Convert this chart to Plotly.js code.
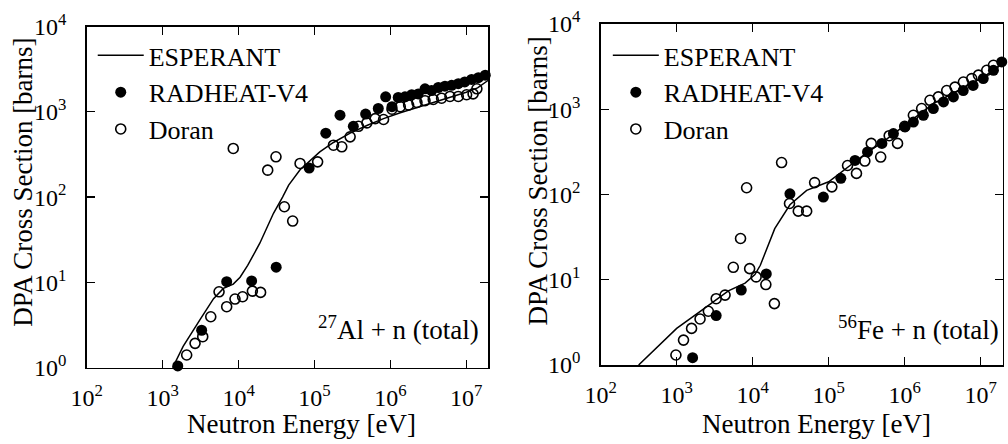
<!DOCTYPE html>
<html>
<head>
<meta charset="utf-8">
<script src="https://cdn.plot.ly/plotly-3.0.1.min.js"></script>
<style>html,body{margin:0;padding:0;background:#fff;}#chart{width:1008px;height:444px;}</style>
</head>
<body>
<div id="chart"></div>
<script>
// ---- Tick labels ----
const xTickVals = [1e2, 1e3, 1e4, 1e5, 1e6, 1e7];
const xTickText = ['10<sup>2</sup>', '10<sup>3</sup>', '10<sup>4</sup>', '10<sup>5</sup>', '10<sup>6</sup>', '10<sup>7</sup>'];
const yTickVals = [1, 10, 100, 1000, 10000];
const yTickText = ['10<sup>0</sup>', '10<sup>1</sup>', '10<sup>2</sup>', '10<sup>3</sup>', '10<sup>4</sup>'];

const seriesNames = ['ESPERANT', 'RADHEAT-V4', 'Doran'];
const panelLabels = ['<sup>27</sup>Al + n (total)', '<sup>56</sup>Fe + n (total)'];
const xTitle = 'Neutron Energy [eV]';
const yTitle = 'DPA Cross Section [barns]';

// ---- 27Al + n : ESPERANT (line) ----
const alEspE = [1.35e3, 1.86e3, 3.09e3, 4.68e3, 6.31e3, 8.51e3, 1.047e4, 1.318e4, 1.905e4, 2.884e4, 3.80e4, 4.57e4, 6.46e4, 8.71e4, 1.175e5, 1.778e5, 2.95e5, 4.90e5, 8.13e5, 1.35e6, 2.24e6, 3.72e6, 6.17e6, 1.0e7, 1.41e7, 1.95e7];
const alEspS = [1.0, 1.78, 3.63, 6.46, 8.51, 9.55, 11.5, 15.8, 28.8, 64.6, 100, 138, 209, 263, 339, 437, 562, 692, 832, 977, 1122, 1288, 1479, 1698, 1905, 2344];

// ---- 27Al + n : RADHEAT-V4 (filled) ----
const alRadE = [1.58e3, 3.26e3, 6.97e3, 1.486e4, 3.13e4, 8.51e4, 1.41e5, 2.17e5, 3.25e5, 4.72e5, 6.93e5, 8.67e5, 1.05e6, 1.27e6, 1.56e6, 1.91e6, 2.33e6, 2.86e6, 3.49e6, 4.28e6, 5.24e6, 6.41e6, 7.85e6, 9.55e6, 1.175e7, 1.445e7, 1.78e7];
const alRadS = [1.05, 2.75, 10.2, 10.4, 15.1, 219, 562, 912, 676, 940, 1094, 1500, 1148, 1472, 1500, 1585, 1622, 1862, 1778, 1928, 1995, 2042, 2138, 2239, 2399, 2512, 2692];

// ---- 27Al + n : Doran (open) ----
const alDorE = [2.07e3, 2.67e3, 3.37e3, 4.30e3, 5.53e3, 6.97e3, 8.97e3, 1.13e4, 1.52e4, 1.95e4, 8.51e3, 2.42e4, 3.11e4, 4.01e4, 5.16e4, 6.46e4, 1.10e5, 1.78e5, 2.29e5, 2.95e5, 3.80e5, 4.90e5, 6.31e5, 8.13e5, 1.05e6, 1.35e6, 1.74e6, 2.24e6, 2.86e6, 3.67e6, 4.73e6, 6.10e6, 7.85e6, 1.01e7, 1.23e7, 1.38e7];
const alDorS = [1.41, 1.93, 2.31, 3.96, 7.76, 5.19, 6.38, 6.79, 7.91, 7.64, 372, 207, 297, 77.1, 52.4, 248, 259, 406, 389, 509, 676, 741, 832, 813, 1072, 1148, 1202, 1288, 1349, 1396, 1445, 1514, 1514, 1585, 1622, 1862];

// ---- 56Fe + n : ESPERANT (line) ----
const feEspE = [316, 562, 1000, 2042, 4786, 7943, 1.07e4, 1.26e4, 1.95e4, 3.09e4, 4.17e4, 5.13e4, 1.0e5, 1.74e5, 3.16e5, 5.25e5, 8.71e5, 1.445e6, 2.40e6, 3.98e6, 6.61e6, 1.10e7, 1.95e7];
const feEspS = [1.0, 1.66, 2.69, 4.27, 7.41, 9.12, 11.5, 14.8, 39.8, 75.9, 95.5, 112, 141, 204, 309, 417, 589, 851, 1175, 1479, 1862, 2399, 3467];

// ---- 56Fe + n : RADHEAT-V4 (filled) ----
const feRadE = [1.62e3, 3.31e3, 7.08e3, 1.51e4, 3.09e4, 8.51e4, 1.445e5, 2.22e5, 3.24e5, 5.01e5, 7.10e5, 1.01e6, 1.30e6, 1.76e6, 2.38e6, 3.24e6, 4.37e6, 5.89e6, 7.94e6, 1.08e7, 1.47e7, 1.89e7];
const feRadS = [1.22, 3.80, 7.57, 11.7, 102, 93.3, 155, 251, 316, 398, 519, 621, 708, 851, 1019, 1219, 1396, 1660, 1905, 2291, 2864, 3589];

// ---- 56Fe + n : Doran (open) ----
const feDorE = [977, 1.23e3, 1.57e3, 2.03e3, 2.61e3, 3.31e3, 4.33e3, 5.56e3, 6.92e3, 8.32e3, 9.12e3, 1.11e4, 1.49e4, 1.93e4, 2.40e4, 3.05e4, 3.98e4, 5.13e4, 6.53e4, 1.10e5, 1.77e5, 2.32e5, 2.99e5, 3.63e5, 4.83e5, 6.25e5, 8.05e5, 1.0e6, 1.30e6, 1.67e6, 2.15e6, 2.77e6, 3.57e6, 4.59e6, 5.92e6, 7.62e6, 9.33e6, 1.20e7, 1.47e7];
const feDorS = [1.31, 1.96, 2.69, 3.47, 4.27, 6.0, 6.61, 14.0, 30.5, 120, 13.5, 10.8, 8.79, 5.25, 237, 78.5, 63.8, 63.8, 138, 123, 219, 177, 247, 398, 275, 490, 398, 631, 851, 1019, 1274, 1396, 1660, 1820, 2089, 2291, 2512, 2864, 3281];

const FONT = '"Liberation Serif", "Times New Roman", Times, serif';

function lineTrace(x, y, xa, ya, leg, name) {
  return {x: x, y: y, xaxis: xa, yaxis: ya, legend: leg, name: name, type: 'scatter', mode: 'lines',
          line: {color: 'black', width: 1.5}, hoverinfo: 'skip'};
}
function filledTrace(x, y, xa, ya, leg, name) {
  return {x: x, y: y, xaxis: xa, yaxis: ya, legend: leg, name: name, type: 'scatter', mode: 'markers',
          cliponaxis: false, marker: {symbol: 'circle', size: 11, color: 'black'}, hoverinfo: 'skip'};
}
function openTrace(x, y, xa, ya, leg, name) {
  return {x: x, y: y, xaxis: xa, yaxis: ya, legend: leg, name: name, type: 'scatter', mode: 'markers',
          cliponaxis: false, marker: {symbol: 'circle-open', size: 10, color: 'black', line: {width: 1.6, color: 'black'}}, hoverinfo: 'skip'};
}

const data = [
  lineTrace(alEspE, alEspS, 'x', 'y', 'legend', seriesNames[0]),
  filledTrace(alRadE, alRadS, 'x', 'y', 'legend', seriesNames[1]),
  openTrace(alDorE, alDorS, 'x', 'y', 'legend', seriesNames[2]),
  lineTrace(feEspE, feEspS, 'x2', 'y2', 'legend2', seriesNames[0]),
  filledTrace(feRadE, feRadS, 'x2', 'y2', 'legend2', seriesNames[1]),
  openTrace(feDorE, feDorS, 'x2', 'y2', 'legend2', seriesNames[2])
];

function xAxis(domain, anchor) {
  return {type: 'log', range: [2, 7.29], domain: domain, anchor: anchor,
          tickmode: 'array', tickvals: xTickVals, ticktext: xTickText,
          ticks: 'inside', ticklen: 8, tickwidth: 1.3, tickcolor: 'black', mirror: 'ticks',
          showline: true, linewidth: 1.6, linecolor: 'black', showgrid: false, zeroline: false,
          ticklabelstandoff: 8, tickfont: {family: FONT, size: 24, color: 'black'}};
}
function yAxis(domain, anchor) {
  return {type: 'log', range: [0, 4], domain: domain, anchor: anchor,
          tickmode: 'array', tickvals: yTickVals, ticktext: yTickText,
          ticks: 'inside', ticklen: 8, tickwidth: 1.3, tickcolor: 'black', mirror: 'ticks',
          showline: true, linewidth: 1.6, linecolor: 'black', showgrid: false, zeroline: false,
          ticklabelstandoff: 14, tickfont: {family: FONT, size: 24, color: 'black'}};
}
function legendBox(x, y) {
  return {x: x, y: y, xref: 'paper', yref: 'paper', xanchor: 'left', yanchor: 'top',
          bgcolor: 'rgba(0,0,0,0)', borderwidth: 0, itemwidth: 46,
          font: {family: FONT, size: 26, color: 'black'}, tracegroupgap: 0};
}
function ann(text, x, y, xanchor, yanchor, angle) {
  return {text: text, x: x, y: y, xref: 'paper', yref: 'paper', xanchor: xanchor, yanchor: yanchor,
          showarrow: false, textangle: angle || 0, font: {family: FONT, size: 27, color: 'black'}};
}

const layout = {
  width: 1008, height: 444,
  margin: {l: 0, r: 0, t: 0, b: 0},
  paper_bgcolor: 'white', plot_bgcolor: 'white',
  font: {family: FONT, color: 'black', size: 22},
  showlegend: true,
  xaxis: xAxis([0.0861, 0.4844], 'y'),
  yaxis: yAxis([0.1718, 0.9403], 'x'),
  xaxis2: xAxis([0.5959, 0.9948], 'y2'),
  yaxis2: yAxis([0.1779, 0.9459], 'x2'),
  legend: legendBox(0.092, 0.928),
  legend2: legendBox(0.603, 0.928),
  annotations: [
    ann(xTitle, 0.2993, 0.045, 'center', 'middle'),
    ann(xTitle, 0.8102, 0.045, 'center', 'middle'),
    ann(yTitle, 0.0228, 0.5908, 'center', 'middle', -90),
    ann(yTitle, 0.5333, 0.5923, 'center', 'middle', -90),
    ann(panelLabels[0], 0.4772, 0.262, 'right', 'middle'),
    ann(panelLabels[1], 0.9935, 0.262, 'right', 'middle')
  ]
};

Plotly.newPlot('chart', data, layout, {staticPlot: true, displayModeBar: false});
</script>
</body>
</html>
